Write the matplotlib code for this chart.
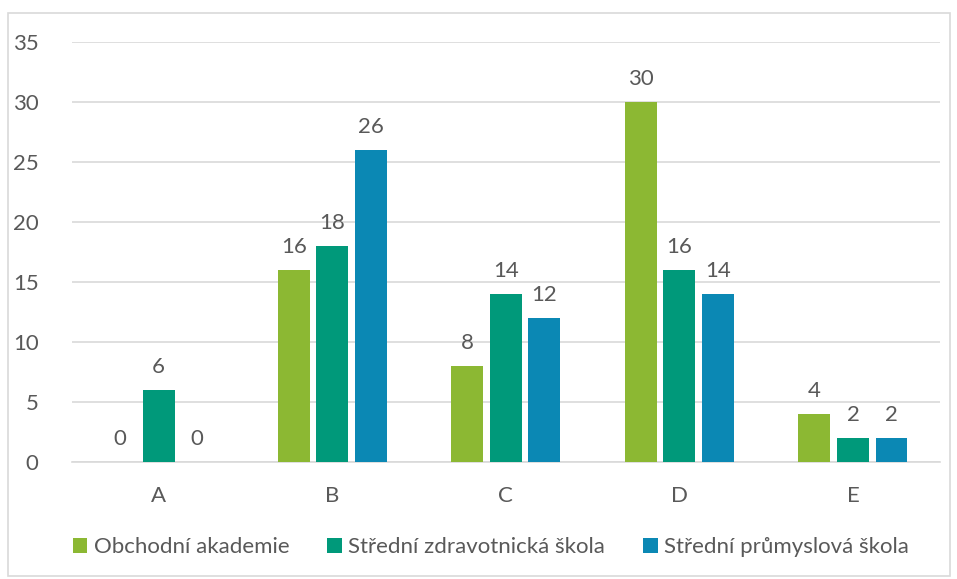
import numpy as np
import matplotlib.pyplot as plt
from matplotlib.patches import Rectangle

# data
kategorie = ["A", "B", "C", "D", "E"]
obchodni = [0, 16, 8, 30, 4]
zdravotnicka = [6, 18, 14, 16, 2]
prumyslova = [0, 26, 12, 14, 2]
nazvy = ["Obchodní akademie", "Střední zdravotnická škola", "Střední průmyslová škola"]
barvy = ["#8CB833", "#00997A", "#0B88B4"]

plt.rcParams['font.family'] = ['Lato', 'DejaVu Sans']
seda = "#595959"

fig = plt.figure(figsize=(9.57, 5.79), dpi=100)
ax = fig.add_axes([0.0752, 0.2021, 0.9068, 0.7254])

x = np.arange(len(kategorie))
w = 0.184
krok = 0.222
for i, (vals, nazev, barva) in enumerate(zip([obchodni, zdravotnicka, prumyslova], nazvy, barvy)):
    bars = ax.bar(x + (i - 1) * krok, vals, w, color=barva, label=nazev, zorder=3)
    ax.bar_label(bars, padding=9, fontsize=16, color=seda)

ax.set_xlim(-0.5, 4.5)
ax.set_ylim(0, 35)
ax.set_yticks(range(0, 36, 5))
ax.set_xticks(x, kategorie)
ax.yaxis.grid(True, color="#D9D9D9", linewidth=1.2, zorder=0)
for s in ["top", "right", "left"]:
    ax.spines[s].set_visible(False)
ax.spines["bottom"].set_color("#D9D9D9")
ax.spines["bottom"].set_linewidth(1.2)
ax.tick_params(axis="both", length=0, labelsize=16, labelcolor=seda)
ax.tick_params(axis="y", pad=24)
ax.tick_params(axis="x", pad=17)

leg = fig.legend(loc="center", bbox_to_anchor=(0.513, 0.055), ncol=3, frameon=False,
                 fontsize=16, handlelength=0.65, handleheight=0.65, handletextpad=0.3,
                 columnspacing=1.7, labelcolor=seda)

fig.patches.append(Rectangle((8 / 957, 1 - 576 / 579), 942 / 957, 563 / 579,
                             transform=fig.transFigure, fill=False,
                             edgecolor="#D9D9D9", linewidth=1.2))

fig.savefig("out.png", dpi=100)
